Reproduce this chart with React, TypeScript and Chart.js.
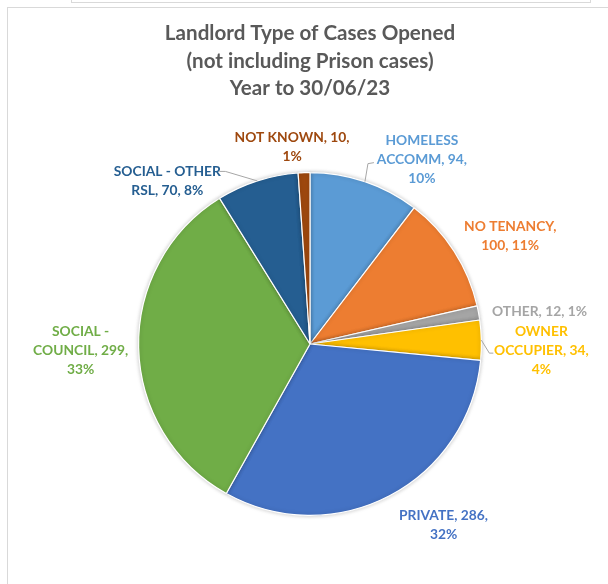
import React, { useEffect, useRef } from 'react';
import { Chart, registerables } from 'chart.js';

Chart.register(...registerables);

const categories = [
  'HOMELESS ACCOMM',
  'NO TENANCY',
  'OTHER',
  'OWNER OCCUPIER',
  'PRIVATE',
  'SOCIAL - COUNCIL',
  'SOCIAL - OTHER RSL',
  'NOT KNOWN',
];
const values = [94, 100, 12, 34, 286, 299, 70, 10];
const titleLines = ['Landlord Type of Cases Opened', '(not including Prison cases)', 'Year to 30/06/23'];

// styling / layout
const colors = ['#5B9BD5', '#ED7D31', '#A5A5A5', '#FFC000', '#4472C4', '#70AD47', '#255E91', '#9E480E'];
const labelOffsets: number[][] = [
  [57, -22], [56, -15], [61, -1], [60, 10], [54, 29], [-58, 3], [-90, 0], [-12, -26],
];
const wrapWidths = [110, 108, 140, 106, 108, 106, 120, 126];
const leaders: Record<number, number[][]> = {
  0: [[-54, 4], [-48, 3]],
  3: [[-52, 3], [-48, 3]],
  6: [[58, -9.5], [52, -9.5]],
};
const LABEL_FONT = 'bold 13.8px Lato';
const LINE_H = 19;

function wrap(ctx: CanvasRenderingContext2D, text: string, maxW: number): string[] {
  const words = text.split(' ');
  const lines: string[] = [];
  let cur = '';
  for (const w of words) {
    const t = cur ? cur + ' ' + w : w;
    if (cur && ctx.measureText(t).width > maxW) {
      lines.push(cur);
      cur = w;
    } else cur = t;
  }
  if (cur) lines.push(cur);
  return lines;
}

const labelPlugin = {
  id: 'excelLabels',
  afterDraw(chart: any) {
    const ctx: CanvasRenderingContext2D = chart.ctx;
    const meta = chart.getDatasetMeta(0);
    const total = values.reduce((a, b) => a + b, 0);
    ctx.save();
    // title
    ctx.fillStyle = '#595959';
    ctx.font = 'bold 20.6px Lato';
    ctx.textAlign = 'center';
    ctx.textBaseline = 'middle';
    const cx = meta.data[0].x;
    titleLines.forEach((t, i) => ctx.fillText(t, cx, 33.5 + i * 27.5));

    ctx.font = LABEL_FONT;
    meta.data.forEach((arc: any, i: number) => {
      const mid = (arc.startAngle + arc.endAngle) / 2;
      const ax = arc.x + Math.cos(mid) * arc.outerRadius;
      const ay = arc.y + Math.sin(mid) * arc.outerRadius;
      const lx = ax + labelOffsets[i][0];
      const ly = ay + labelOffsets[i][1];
      const pct = Math.round((values[i] / total) * 100);
      const text = `${categories[i]}, ${values[i]}, ${pct}%`;
      const lines = wrap(ctx, text, wrapWidths[i]);
      ctx.fillStyle = colors[i];
      const y0 = ly - ((lines.length - 1) * LINE_H) / 2;
      lines.forEach((l, k) => ctx.fillText(l, lx, y0 + k * LINE_H));
      const ld = leaders[i];
      if (ld) {
        ctx.strokeStyle = '#A6A6A6';
        ctx.lineWidth = 1;
        ctx.beginPath();
        ctx.moveTo(ax, ay);
        ld.forEach((p) => ctx.lineTo(lx + p[0], ly + p[1]));
        ctx.stroke();
      }
    });
    ctx.restore();
  },
};

const shadowPlugin = {
  id: 'softShadow',
  beforeDatasetsDraw(chart: any) {
    const ctx = chart.ctx;
    ctx.save();
    ctx.shadowColor = 'rgba(0,0,0,0.22)';
    ctx.shadowBlur = 4;
  },
  afterDatasetsDraw(chart: any) {
    chart.ctx.restore();
  },
};

export default function App() {
  const ref = useRef<HTMLCanvasElement | null>(null);
  useEffect(() => {
    if (!ref.current) return;
    const chart = new Chart(ref.current, {
      type: 'pie',
      data: {
        labels: categories,
        datasets: [
          {
            data: values,
            backgroundColor: colors,
            borderColor: '#ffffff',
            borderWidth: 1.2,
          },
        ],
      },
      options: {
        responsive: false,
        maintainAspectRatio: false,
        animation: false,
        layout: { padding: { left: 138, right: 126, top: 172, bottom: 68 } },
        plugins: { legend: { display: false }, tooltip: { enabled: false }, title: { display: false } },
      },
      plugins: [shadowPlugin, labelPlugin],
    });
    return () => chart.destroy();
  }, []);

  return (
    <div style={{ position: 'absolute', left: 0, top: 0, width: 608, height: 584, overflow: 'hidden', background: '#fff' }}>
      <div style={{ position: 'absolute', left: 71, top: -10, width: 518, height: 11, border: '1px solid #D9D9D9' }} />
      <div style={{ position: 'absolute', left: 7, top: 7, width: 640, height: 620, border: '1px solid #D9D9D9' }} />
      <canvas ref={ref} width={608} height={584} style={{ position: 'absolute', left: 0, top: 0 }} />
    </div>
  );
}
